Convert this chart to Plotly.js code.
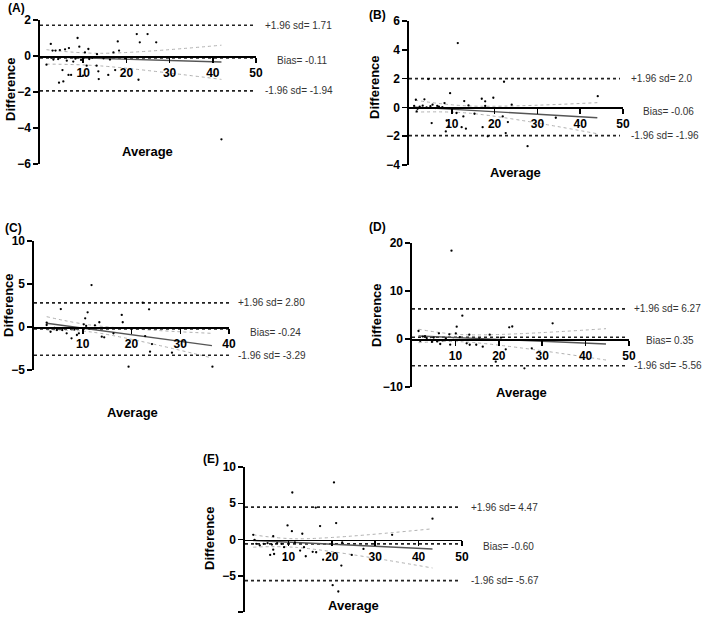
<!DOCTYPE html>
<html>
<head>
<meta charset="utf-8">
<script src="https://cdn.plot.ly/plotly-3.0.1.min.js"></script>
<style>html,body{margin:0;padding:0;background:#fff;}#chart{width:709px;height:618px;}</style>
</head>
<body>
<div id="chart"></div>
<script>
// ---------- DATA ----------
// Panel A
const aX = [2.5,8.7,9.1,6.7,5.8,4.6,3.6,2.9,11.2,18,22.4,24.9,26.9,23.1,18.3,17,22.8,13.6,15.8,17.4,13.5,13.1,10.8,10,7.2,6.6,5.4,4.4,5.2,1.5,10.4,13.2,6.2,4.2,3.1,7.7,11.4,14.7,19.7,2.6,8.2,9.5,12.1,16.2,42];
const aY = [0.67,1.0,0.52,0.44,0.37,0.33,0.3,0.3,0.39,0.81,1.22,1.22,0.76,0.76,0.3,0.2,-1.32,-1.28,-1.05,-0.78,-0.85,-0.54,-0.54,-1.09,-1.05,-1.05,-1.41,-1.48,-0.78,-0.48,0.2,0.1,-0.26,-0.17,-0.2,-0.31,-0.17,-0.13,-0.13,-0.1,-0.15,-0.22,-0.1,-0.2,-4.63];
const aLimits = [1.71, -0.11, -1.94];
const aLabels = ["+1.96 sd= 1.71", "Bias= -0.11", "-1.96 sd= -1.94"];
const aRegX = [1.5, 42], aRegY = [-0.05, -0.33];
const aBandX = [1.5, 14, 42], aBandUp = [0.35, 0.15, 0.6], aBandLo = [-0.45, -0.55, -1.3];

// Panel B
const bX = [11.4,4.5,22.2,44.1,9.6,19.7,17,17.8,12.9,24,1.6,3.6,8.3,5.5,13.9,17.8,5.3,8.8,9.2,8.6,12.3,13.3,12.7,15.3,11.1,17.2,18.4,22.6,23.1,21.9,27.7,34.3,1.8,1.2,2.5,3.2,4.1,5.0,6.2,7.0,7.8,2.0,10.1,6.6];
const bY = [4.47,1.97,1.78,0.78,0.99,0.67,0.6,0.42,0.44,0.19,0.53,0.56,0.3,0.19,0.14,0.1,-1.09,-0.9,-1.32,-1.67,-1.37,-1.48,-0.63,-0.44,-0.39,-1.37,-2.01,-1.78,-1.02,-0.63,-2.69,-0.72,-0.28,0.1,0.05,0.12,0.0,0.08,-0.05,0.05,0.02,-0.1,-0.05,0.1];
const bLimits = [2.0, -0.06, -1.96];
const bLabels = ["+1.96 sd= 2.0", "Bias= -0.06", "-1.96 sd= -1.96"];
const bRegX = [1.4, 44], bRegY = [0.02, -0.72];
const bBandX = [1.4, 14, 44], bBandUp = [0.5, 0.1, 0.33], bBandLo = [-0.33, -0.4, -1.83];

// Panel C
const cX = [11.8,5.5,11,10.5,13.4,10.2,18,18.2,22.3,23.6,19.4,36.6,23.8,24.2,28.3,22.8,19.4,13.9,14.4,16.3,7.7,8.8,9.2,6.7,2.6,2.6,4.7,3.6,5.8,7.5,10.7,11.4,3.4,4.2,8.3,12.5];
const cY = [4.88,2.09,1.71,1.01,0.55,0.31,1.4,0.55,2.83,2.06,-4.61,-4.61,-2.87,-1.98,-2.98,-1.05,-1.9,-1.12,-1.2,-0.74,-1.32,-0.93,-0.74,-0.74,0.5,0.23,-0.35,-0.15,-0.35,-0.15,0.12,-0.15,-0.55,-0.1,-0.3,0.2];
const cLimits = [2.80, -0.24, -3.29];
const cLabels = ["+1.96 sd= 2.80", "Bias= -0.24", "-1.96 sd= -3.29"];
const cRegX = [2.6, 36.5], cRegY = [0.43, -2.17];
const cBandX = [2.6, 12, 36.5], cBandUp = [1.2, 0.2, -0.74], cBandLo = [-0.35, -0.6, -3.6];

// Panel D
const dX = [9.1,11.6,10.3,32.4,22.4,23.1,1.5,6.2,8.6,10.1,13.2,17.9,8.8,12.6,13.3,14.8,16.3,19.3,21.6,25.9,27.6,6.5,1.9,2.5,3.4,4.2,5.0,5.8,7.0,7.8,9.5,11,4.6,3.0,15.5,20.5];
const dY = [18.4,4.85,2.57,3.27,2.43,2.6,1.67,1.18,0.97,1.18,0.9,0.9,-1.18,-0.9,-1.2,-1.2,-1.6,-4.72,-2.15,-6.11,-1.94,-1.04,-0.4,0.5,0.2,-0.2,0.3,-0.5,-0.3,0.1,-0.2,0.4,-0.6,0.6,-0.1,0.3];
const dLimits = [6.27, 0.35, -5.56];
const dLabels = ["+1.96 sd= 6.27", "Bias= 0.35", "-1.96 sd= -5.56"];
const dRegX = [1.5, 44.7], dRegY = [0.63, -1.04];
const dBandX = [1.5, 12, 44.7], dBandUp = [2.04, 0.9, 2.15], dBandLo = [-0.77, -0.6, -4.38];

// Panel E
const eX = [20.5,10.9,16.3,21,43.2,9.8,10.8,13.2,17.3,33.9,1.9,6.5,20.2,21.5,22.2,18,14,9,5.8,6.7,24.6,27.3,16.4,15.6,12.7,6.5,9,13.6,22.4,2.6,3.4,4.3,5.2,6.2,7.4,8.4,2.2,11.5];
const eY = [7.87,6.48,4.4,2.27,2.87,1.94,1.15,0.79,1.85,0.65,0.65,0.46,-6.3,-7.17,-3.6,-2.78,-2.31,-2.82,-2.13,-2,-2.13,-1.3,-1.76,-1.7,-1.53,-1.4,-1.06,-1.06,-0.4,-0.6,-0.8,-0.6,-0.5,-0.7,-0.5,-0.6,-0.05,-0.4];
const eLimits = [4.47, -0.60, -5.67];
const eLabels = ["+1.96 sd= 4.47", "Bias= -0.60", "-1.96 sd= -5.67"];
const eRegX = [1.9, 43.2], eRegY = [-0.14, -1.3];
const eBandX = [1.9, 12, 43.2], eBandUp = [0.65, 0.1, 1.48], eBandLo = [-1.06, -1.1, -3.93];

const panelNames = ["(A)", "(B)", "(C)", "(D)", "(E)"];
const xTicksAll = [10, 20, 30, 40, 50];
const xTicksC = [10, 20, 30, 40];
const yTicksA = [-6, -4, -2, 0, 2];
const yTicksB = [-4, -2, 0, 2, 4, 6];
const yTicksC = [-5, 0, 5, 10];
const yTicksD = [-10, 0, 10, 20];
const yTicksE = [-10, -5, 0, 5, 10];

// ---------- LAYOUT GEOMETRY (pixels) ----------
const W = 709, H = 618;
const px = v => v / W;
const py = v => 1 - v / H;
const FONT = "Liberation Sans, Arial, sans-serif";

const panels = [
  {x: aX, y: aY, lim: aLimits, lab: aLabels, rx: aRegX, ry: aRegY, bx: aBandX, bu: aBandUp, bl: aBandLo,
   xr: [0, 50], yr: [-6, 2], xt: xTicksAll, yt: yTicksA, l: 40, r: 256, t: 20, b: 164, lineEnd: 49.5,
   labX: 263, biasX: 275, name: [6, 8], diff: [10, 89], avg: [147, 152]},
  {x: bX, y: bY, lim: bLimits, lab: bLabels, rx: bRegX, ry: bRegY, bx: bBandX, bu: bBandUp, bl: bBandLo,
   xr: [0, 50], yr: [-4, 6], xt: xTicksAll, yt: yTicksB, l: 409, r: 623, t: 21, b: 165, lineEnd: 49.3,
   labX: 629, biasX: 641, name: [367, 15], diff: [375, 87], avg: [515, 173]},
  {x: cX, y: cY, lim: cLimits, lab: cLabels, rx: cRegX, ry: cRegY, bx: cBandX, bu: cBandUp, bl: cBandLo,
   xr: [0, 40], yr: [-5, 10], xt: xTicksC, yt: yTicksC, l: 34, r: 229, t: 241, b: 370, lineEnd: 40,
   labX: 236, biasX: 248, name: [3, 228], diff: [8, 305], avg: [132, 412]},
  {x: dX, y: dY, lim: dLimits, lab: dLabels, rx: dRegX, ry: dRegY, bx: dBandX, bu: dBandUp, bl: dBandLo,
   xr: [0, 50], yr: [-10, 20], xt: xTicksAll, yt: yTicksD, l: 412, r: 629, t: 243, b: 387, lineEnd: 49.3,
   labX: 632, biasX: 644, name: [367, 227], diff: [376, 315], avg: [521, 392]},
  {x: eX, y: eY, lim: eLimits, lab: eLabels, rx: eRegX, ry: eRegY, bx: eBandX, bu: eBandUp, bl: eBandLo,
   xr: [0, 50], yr: [-10, 10], xt: xTicksAll, yt: yTicksE, l: 245, r: 462, t: 467, b: 612, lineEnd: 49.1,
   labX: 469, biasX: 481, name: [201, 459], diff: [209, 538], avg: [353, 605]}
];

const traces = [];
const layout = {
  width: W, height: H,
  margin: {l: 0, r: 0, t: 0, b: 0},
  paper_bgcolor: "#fff", plot_bgcolor: "#fff",
  showlegend: false,
  font: {family: FONT, color: "#000"},
  annotations: []
};

panels.forEach((p, i) => {
  const n = i + 1;
  const xa = n === 1 ? "x" : "x" + n;
  const ya = n === 1 ? "y" : "y" + n;
  const xKey = n === 1 ? "xaxis" : "xaxis" + n;
  const yKey = n === 1 ? "yaxis" : "yaxis" + n;
  const yd = [py(p.b), py(p.t)];
  const zeroPos = yd[0] + (0 - p.yr[0]) / (p.yr[1] - p.yr[0]) * (yd[1] - yd[0]);

  // confidence band (light dotted)
  traces.push({x: p.bx, y: p.bu, xaxis: xa, yaxis: ya, mode: "lines", type: "scatter",
    line: {color: "#b0b0b0", width: 1, dash: "dot", shape: "spline"}, hoverinfo: "skip"});
  traces.push({x: p.bx, y: p.bl, xaxis: xa, yaxis: ya, mode: "lines", type: "scatter",
    line: {color: "#b0b0b0", width: 1, dash: "dot", shape: "spline"}, hoverinfo: "skip"});
  // limits of agreement + bias
  p.lim.forEach(v => {
    traces.push({x: [p.xr[0], p.lineEnd], y: [v, v], xaxis: xa, yaxis: ya, mode: "lines", type: "scatter",
      line: {color: "#222", width: 1.6, dash: "dot"}, hoverinfo: "skip"});
  });
  // regression line
  traces.push({x: p.rx, y: p.ry, xaxis: xa, yaxis: ya, mode: "lines", type: "scatter",
    line: {color: "#555", width: 1.4}, hoverinfo: "skip"});
  // points
  traces.push({x: p.x, y: p.y, xaxis: xa, yaxis: ya, mode: "markers", type: "scatter",
    marker: {color: "#000", size: 2.3}, cliponaxis: false});

  layout[xKey] = {
    domain: [px(p.l), px(p.r)], range: p.xr, anchor: "free", position: zeroPos,
    tickmode: "array", tickvals: p.xt, ticks: "outside", ticklen: 5, tickwidth: 1.5, tickcolor: "#000",
    showline: true, linecolor: "#000", linewidth: 1.6, showgrid: false, zeroline: false,
    tickfont: {family: FONT, size: 12, weight: 700, color: "#000"}
  };
  layout[yKey] = {
    domain: yd, range: p.yr, anchor: xa,
    tickmode: "array", tickvals: p.yt, ticks: "outside", ticklen: 5, tickwidth: 1.5, tickcolor: "#000",
    showline: true, linecolor: "#000", linewidth: 1.6, showgrid: false, zeroline: false,
    tickfont: {family: FONT, size: 12, weight: 700, color: "#000"}
  };

  // limit labels
  p.lab.forEach((t, k) => {
    layout.annotations.push({
      text: t, xref: "paper", yref: ya, x: px(k === 1 ? p.biasX : p.labX), y: p.lim[k],
      yshift: k === 1 ? -3 : 0,
      xanchor: "left", yanchor: "middle", showarrow: false,
      font: {family: FONT, size: 10, color: "#333"}
    });
  });
  // panel letter
  layout.annotations.push({text: panelNames[i], xref: "paper", yref: "paper",
    x: px(p.name[0]), y: py(p.name[1]), xanchor: "left", yanchor: "middle", showarrow: false,
    font: {family: FONT, size: 12, weight: 700, color: "#000"}});
  // axis titles
  layout.annotations.push({text: "Difference", xref: "paper", yref: "paper",
    x: px(p.diff[0]), y: py(p.diff[1]), xanchor: "center", yanchor: "middle", textangle: -90, showarrow: false,
    font: {family: FONT, size: 13, weight: 700, color: "#000"}});
  layout.annotations.push({text: "Average", xref: "paper", yref: "paper",
    x: px(p.avg[0]), y: py(p.avg[1]), xanchor: "center", yanchor: "middle", showarrow: false,
    font: {family: FONT, size: 13, weight: 700, color: "#000"}});
});

Plotly.newPlot("chart", traces, layout, {staticPlot: true, displayModeBar: false});
</script>
</body>
</html>
